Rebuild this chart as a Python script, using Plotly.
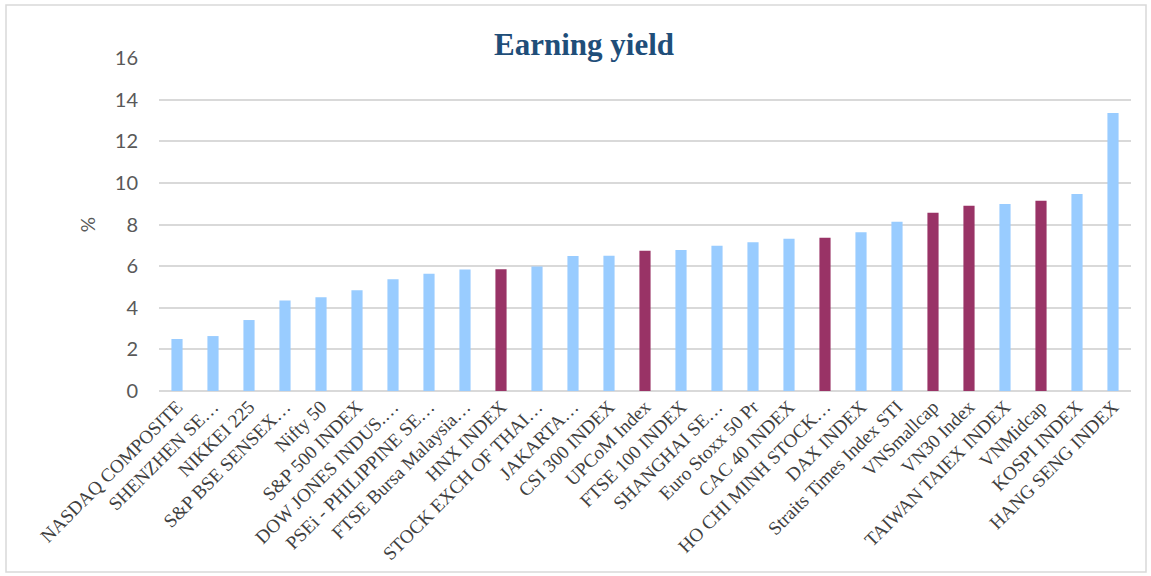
import plotly.graph_objects as go

categories = [
    "NASDAQ COMPOSITE", "SHENZHEN SE…", "NIKKEI 225", "S&P BSE SENSEX…", "Nifty 50",
    "S&P 500 INDEX", "DOW JONES INDUS.…", "PSEi - PHILIPPINE SE…", "FTSE Bursa Malaysia…",
    "HNX INDEX", "STOCK EXCH OF THAI…", "JAKARTA…", "CSI 300 INDEX", "UPCoM Index",
    "FTSE 100 INDEX", "SHANGHAI SE…", "Euro Stoxx 50 Pr", "CAC 40 INDEX",
    "HO CHI MINH STOCK…", "DAX INDEX", "Straits Times Index STI", "VNSmallcap",
    "VN30 Index", "TAIWAN TAIEX INDEX", "VNMidcap", "KOSPI INDEX", "HANG SENG INDEX",
]
values = [2.50, 2.64, 3.41, 4.35, 4.50, 4.84, 5.37, 5.63, 5.84, 5.85, 5.98, 6.49,
          6.50, 6.74, 6.78, 6.98, 7.15, 7.31, 7.36, 7.63, 8.13, 8.56, 8.90, 8.99,
          9.14, 9.46, 13.36]
vietnam = {"HNX INDEX", "UPCoM Index", "HO CHI MINH STOCK…", "VNSmallcap", "VN30 Index", "VNMidcap"}
y_ticks = [0, 2, 4, 6, 8, 10, 12, 14, 16]

BLUE = "#99CCFF"
PURPLE = "#993366"
colors = [PURPLE if c in vietnam else BLUE for c in categories]

fig = go.Figure(go.Bar(
    x=categories, y=values, marker=dict(color=colors, line=dict(width=0)),
    hoverinfo="x+y",
))

L, R, T, B = 159, 20, 58, 185
W, H = 1151, 576
pw, ph = W - L - R, H - T - B

fig.update_layout(
    width=W, height=H,
    margin=dict(l=L, r=R, t=T, b=B),
    paper_bgcolor="white", plot_bgcolor="white",
    bargap=0.69,
    showlegend=False,
    title=dict(
        text="<b>Earning yield</b>",
        font=dict(family="Liberation Serif", size=31, color="#1F4E79"),
        x=584 / W, xanchor="center", xref="container",
        y=1 - 44 / H, yanchor="middle", yref="container",
    ),
    xaxis=dict(
        tickangle=-45,
        tickfont=dict(family="Liberation Serif", size=19, color="#404040"),
        showgrid=False, showline=False, ticks="",
        automargin=False,
    ),
    yaxis=dict(
        range=[0, 16], tickvals=y_ticks,
        tickfont=dict(family="Lato", size=20, color="#595959"),
        gridcolor="#D9D9D9", gridwidth=1.5,
        zeroline=True, zerolinecolor="#D9D9D9", zerolinewidth=1.5,
        showline=False, ticks="", ticklen=0,
        ticklabelstandoff=20,
        title=dict(text="%", font=dict(family="Lato", size=19, color="#595959"), standoff=14),
        automargin=False,
    ),
    shapes=[dict(
        type="rect", xref="paper", yref="paper",
        x0=(6 - L) / pw, x1=(1146 - L) / pw,
        y0=-(572 - (H - B)) / ph, y1=(H - B - 5) / ph,
        line=dict(color="#D9D9D9", width=1.5), fillcolor="rgba(0,0,0,0)", layer="below",
    )],
)

fig.write_html(
    "out.html",
    config={"displayModeBar": False},
    post_script="document.body.style.margin='0';document.body.style.padding='0';",
)
